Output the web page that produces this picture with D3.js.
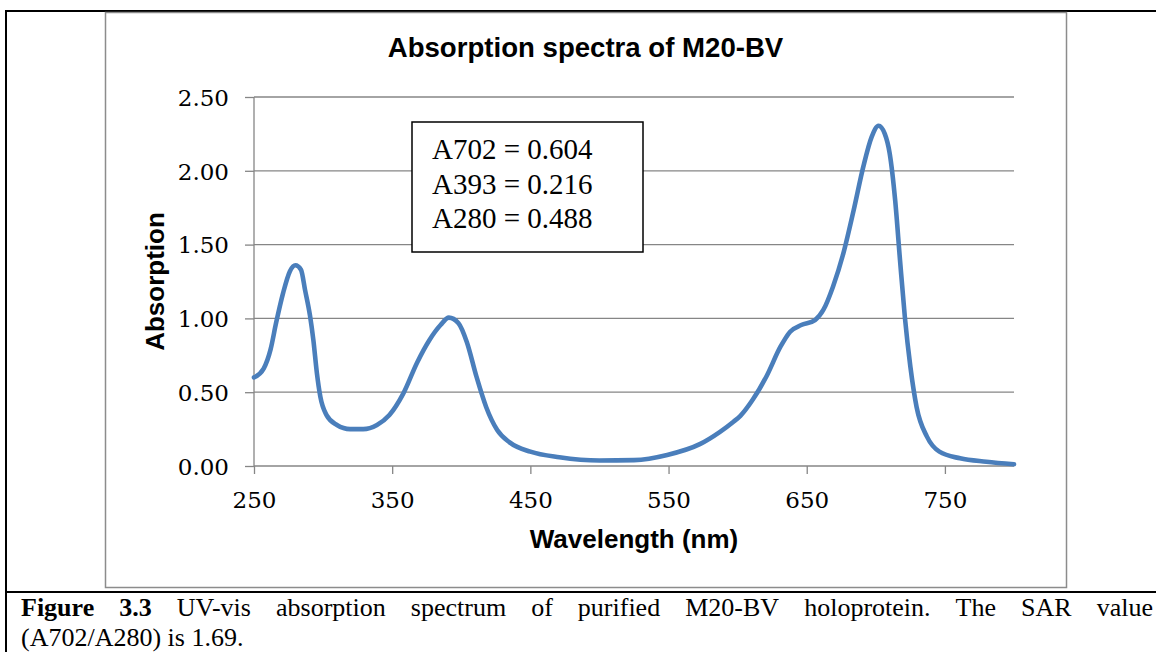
<!DOCTYPE html>
<html>
<head>
<meta charset="utf-8">
<script src="https://cdn.jsdelivr.net/npm/d3@7"></script>
<style>
  body { margin: 0; background: #fff; }
  svg { display: block; }
</style>
</head>
<body>
<svg></svg>
<script>
// DATA
let wavelengths = [250, 257, 262, 266, 271, 276, 280, 284, 287, 290.5, 293, 295.5, 298, 302.5, 310, 319.5, 329, 339, 348, 358, 368, 377, 385, 391, 398, 404, 411, 418, 426, 435, 450, 471, 500, 525, 549, 573, 587, 597, 602, 611, 621, 631, 638, 646, 656, 662, 669, 676.5, 684, 691, 697, 702, 706.5, 710, 714, 717.5, 721, 725, 729.5, 737, 746, 761, 780, 800];
let absorbance = [0.60, 0.66, 0.79, 0.97, 1.17, 1.32, 1.36, 1.33, 1.19, 1.02, 0.85, 0.63, 0.47, 0.345, 0.278, 0.25, 0.25, 0.278, 0.345, 0.49, 0.70, 0.854, 0.955, 1.005, 0.967, 0.84, 0.605, 0.40, 0.244, 0.160, 0.097, 0.059, 0.037, 0.040, 0.075, 0.15, 0.23, 0.30, 0.34, 0.45, 0.61, 0.808, 0.91, 0.955, 0.989, 1.057, 1.215, 1.44, 1.734, 2.03, 2.23, 2.305, 2.25, 2.12, 1.80, 1.396, 1.01, 0.673, 0.40, 0.199, 0.097, 0.052, 0.029, 0.012];
let xTicks = [250, 350, 450, 550, 650, 750];
let yTicks = [0, 0.5, 1, 1.5, 2, 2.5];
let legendLines = ["A702 = 0.604", "A393 = 0.216", "A280 = 0.488"];
let captionLine1 = [["Figure", true], ["3.3", true], ["UV-vis", false], ["absorption", false], ["spectrum", false], ["of", false], ["purified", false], ["M20-BV", false], ["holoprotein.", false], ["The", false], ["SAR", false], ["value", false]];
let captionLine2 = "(A702/A280) is 1.69.";

let width = 1156;
let height = 652;
let plot = {left: 254, right: 1014, top: 97, bottom: 466};
let gridColor = "#868686";
let serif = "'Liberation Serif', 'Times New Roman', serif";
let tickFont = "'DejaVu Serif', serif";
let sans = "'Liberation Sans', Arial, sans-serif";

let svg = d3.select("svg")
  .attr("width", width)
  .attr("height", height);

// outer table borders
svg.append("line").attr("x1", 6).attr("x2", width).attr("y1", 11).attr("y2", 11)
  .attr("stroke", "#000").attr("stroke-width", 2);
svg.append("line").attr("x1", 6).attr("x2", 6).attr("y1", 10).attr("y2", height)
  .attr("stroke", "#000").attr("stroke-width", 2);
svg.append("line").attr("x1", 6).attr("x2", width).attr("y1", 592).attr("y2", 592)
  .attr("stroke", "#000").attr("stroke-width", 2);

// chart frame
svg.append("rect")
  .attr("x", 105.5).attr("y", 12.5)
  .attr("width", 1066 - 105).attr("height", 587 - 12)
  .attr("fill", "#fff")
  .attr("stroke", "#8c8c8c").attr("stroke-width", 1.5);

let x = d3.scaleLinear().domain([250, 800]).range([plot.left, plot.right]);
let y = d3.scaleLinear().domain([0, 2.5]).range([plot.bottom, plot.top]);

// gridlines
svg.append("g")
  .selectAll("line")
  .data(yTicks.filter(d => d > 0))
  .enter()
  .append("line")
  .attr("x1", plot.left).attr("x2", plot.right)
  .attr("y1", d => y(d)).attr("y2", d => y(d))
  .attr("stroke", gridColor).attr("stroke-width", 1.3);

// axes
let yAxis = svg.append("g")
  .attr("transform", `translate(${plot.left},0)`)
  .call(d3.axisLeft(y).tickValues(yTicks).tickFormat(d3.format(".2f")).tickSize(9).tickPadding(16));
let xAxis = svg.append("g")
  .attr("transform", `translate(0,${plot.bottom})`)
  .call(d3.axisBottom(x).tickValues(xTicks).tickFormat(d3.format("d")).tickSize(8).tickPadding(18));

[xAxis, yAxis].forEach(function(ax){
  ax.select(".domain").attr("stroke", gridColor).attr("stroke-width", 1.3);
  ax.selectAll(".tick line").attr("stroke", gridColor).attr("stroke-width", 1.3);
  ax.selectAll(".tick text")
    .attr("fill", "#000")
    .style("font-family", tickFont)
    .style("font-size", "23px");
});
xAxis.select(".domain").attr("d", `M${plot.left},0H${plot.right}`);
yAxis.select(".domain").attr("d", `M0,${plot.bottom}V${plot.top}`);
yAxis.selectAll(".tick text").attr("dy", "0.36em");

// spectrum line
let lineGenerator = d3.line()
  .x((d, i) => x(wavelengths[i]))
  .y(d => y(d))
  .curve(d3.curveMonotoneX);

svg.append("path")
  .datum(absorbance)
  .attr("d", lineGenerator)
  .attr("fill", "none")
  .attr("stroke", "#4a7ebb")
  .attr("stroke-width", 4.6)
  .attr("stroke-linejoin", "round")
  .attr("stroke-linecap", "round");

// legend box
svg.append("rect")
  .attr("x", 412).attr("y", 122)
  .attr("width", 231).attr("height", 130)
  .attr("fill", "#fff")
  .attr("stroke", "#000").attr("stroke-width", 1.5);

svg.append("g")
  .selectAll("text")
  .data(legendLines)
  .enter()
  .append("text")
  .attr("x", 432)
  .attr("y", (d, i) => 159 + i * 34.5)
  .style("font-family", serif)
  .style("font-size", "29px")
  .text(d => d);

// titles
svg.append("text")
  .attr("x", 585.5).attr("y", 57)
  .attr("text-anchor", "middle")
  .style("font-family", sans).style("font-weight", "bold").style("font-size", "27.6px")
  .text("Absorption spectra of M20-BV");

svg.append("text")
  .attr("x", (plot.left + plot.right) / 2).attr("y", 548)
  .attr("text-anchor", "middle")
  .style("font-family", sans).style("font-weight", "bold").style("font-size", "26px")
  .text("Wavelength (nm)");

svg.append("text")
  .attr("transform", `translate(164,${(plot.top + plot.bottom) / 2}) rotate(-90)`)
  .attr("text-anchor", "middle")
  .style("font-family", sans).style("font-weight", "bold").style("font-size", "26px")
  .text("Absorption");

// caption, first line justified
let capLeft = 21, capRight = 1153;
let words = svg.append("g")
  .selectAll("text")
  .data(captionLine1)
  .enter()
  .append("text")
  .attr("y", 616)
  .style("font-family", serif)
  .style("font-size", "26px")
  .style("font-weight", d => d[1] ? "bold" : "normal")
  .text(d => d[0]);

let wordWidths = [];
words.each(function(){ wordWidths.push(this.getComputedTextLength()); });
let gap = (capRight - capLeft - d3.sum(wordWidths)) / (wordWidths.length - 1);
let cursor = capLeft;
words.attr("x", function(d, i){
  let pos = cursor;
  cursor += wordWidths[i] + gap;
  return pos;
});

svg.append("text")
  .attr("x", capLeft).attr("y", 646)
  .style("font-family", serif)
  .style("font-size", "26px")
  .text(captionLine2);
</script>
</body>
</html>
